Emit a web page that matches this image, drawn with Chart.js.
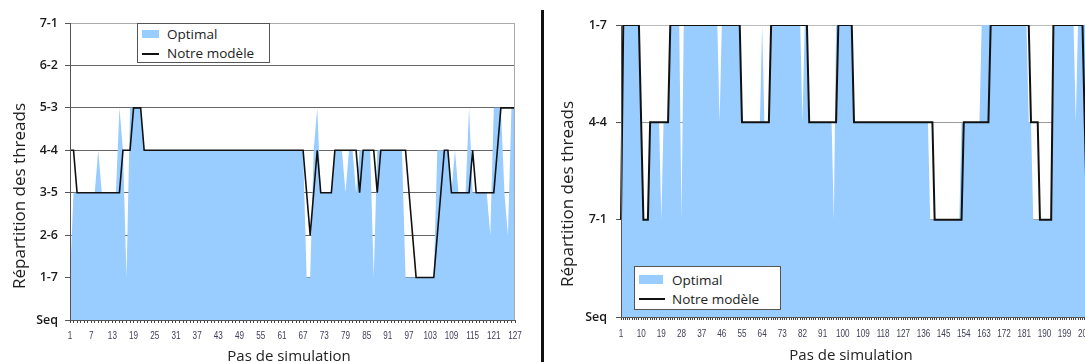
<!DOCTYPE html>
<html><head><meta charset="utf-8">
<script src="https://cdn.jsdelivr.net/npm/chart.js@4.4.1/dist/chart.umd.min.js"></script>
<style>
html,body{margin:0;padding:0;background:#fff;}
body{width:1085px;height:362px;overflow:hidden;position:relative;font-family:'Open Sans',sans-serif;}
canvas.cv{position:absolute;top:0;}
#divider{position:absolute;left:541px;top:10px;width:3px;height:352px;background:#111;}
.ytitle{position:absolute;font-size:17px;line-height:20px;color:#222;white-space:nowrap;transform:translate(-50%,-50%) rotate(-90deg);}
.xtitle{position:absolute;font-size:15px;line-height:20px;color:#222;white-space:nowrap;transform:translate(-50%,0);}
.legend{position:absolute;background:#fff;border:1px solid #555;box-sizing:border-box;font-size:13.5px;color:#222;}
.legend .sw{position:absolute;}
.legend .ln{position:absolute;height:2px;}
.legend .tx{position:absolute;line-height:18px;white-space:nowrap;transform:translateY(-50%);}
</style>
</head><body>
<canvas id="cLeft" class="cv" width="540" height="362" style="left:0;width:540px;height:362px"></canvas>
<div id="divider"></div>
<canvas id="cRight" class="cv" width="560" height="362" style="left:544px;width:560px;height:362px"></canvas>
<div class="ytitle" style="left:18.5px;top:196px">Répartition des threads</div>
<div class="ytitle" style="left:567px;top:194px">Répartition des threads</div>
<div class="xtitle" style="left:289px;top:345px">Pas de simulation</div>
<div class="xtitle" style="left:851px;top:343.5px">Pas de simulation</div>
<div id="legLeft" class="legend" style="left:137px;top:23px;width:133px;height:40px"></div>
<div id="legRight" class="legend" style="left:634px;top:266px;width:147px;height:44px"></div>
<script>
// ---------- Data ----------
const seriesNames = ['Optimal', 'Notre modèle'];

// Left chart
const yLabelsLeft = ['Seq', '1-7', '2-6', '3-5', '4-4', '5-3', '6-2', '7-1'];
const stepsLeft = 127;
const xLabelEveryLeft = 6;
const optimalLeft = [
  1,3,3,3,3,3,3,3,4,3,
  3,3,3,3,5,4,1,5,5,5,
  5,4,4,4,4,4,4,4,4,4,
  4,4,4,4,4,4,4,4,4,4,
  4,4,4,4,4,4,4,4,4,4,
  4,4,4,4,4,4,4,4,4,4,
  4,4,4,4,4,4,4,1,1,4,
  5,3,3,3,3,4,4,4,3,4,
  4,3,4,4,4,4,1,4,4,4,
  4,4,4,4,4,1,1,1,1,1,
  1,1,1,1,4,4,4,4,3,4,
  3,3,3,5,3,3,3,3,3,2,
  5,5,5,3,2,5,5
];
const notreLeft = [
  4,4,3,3,3,3,3,3,3,3,
  3,3,3,3,3,4,4,4,5,5,
  5,4,4,4,4,4,4,4,4,4,
  4,4,4,4,4,4,4,4,4,4,
  4,4,4,4,4,4,4,4,4,4,
  4,4,4,4,4,4,4,4,4,4,
  4,4,4,4,4,4,4,3,2,3,
  4,3,3,3,3,4,4,4,4,4,
  4,4,3,4,4,4,4,3,4,4,
  4,4,4,4,4,4,3,2,1,1,
  1,1,1,1,2,3,4,4,3,3,
  3,3,3,3,4,3,3,3,3,3,
  3,4,5,5,5,5,5
];

// Right chart
const yLabelsRight = ['Seq', '7-1', '4-4', '1-7'];
const stepsRight = 209;
const xLabelEveryRight = 9;
const optimalRight = [
  2,3,3,3,3,3,3,3,3,2,
  1,1,1,2,2,2,2,2,1,2,
  2,2,3,3,3,3,3,1,3,3,
  3,3,3,3,3,3,3,3,3,3,
  3,3,3,3,2,3,3,3,3,3,
  3,3,3,3,2,2,2,2,2,2,
  2,2,2,3,2,2,2,3,3,3,
  3,3,3,3,3,3,3,3,3,3,
  3,2,3,3,2,2,2,2,2,2,
  2,2,2,2,2,1,3,3,3,3,
  3,3,3,3,2,2,2,2,2,2,
  2,2,2,2,2,2,2,2,2,2,
  2,2,2,2,2,2,2,2,2,2,
  2,2,2,2,2,2,2,2,1,1,
  1,1,1,1,1,1,1,1,1,1,
  1,1,2,2,2,2,2,2,2,2,
  2,3,3,3,3,3,3,3,3,3,
  3,3,3,3,3,3,3,3,3,3,
  3,3,2,2,1,1,1,1,1,1,
  1,1,1,3,3,3,3,3,3,3,
  3,3,3,2,3,3,3,3,3
];
const notreRight = [
  1,3,3,3,3,3,3,3,3,2,
  1,1,1,2,2,2,2,2,2,2,
  2,2,3,3,3,3,3,3,3,3,
  3,3,3,3,3,3,3,3,3,3,
  3,3,3,3,3,3,3,3,3,3,
  3,3,3,3,2,2,2,2,2,2,
  2,2,2,2,2,2,2,3,3,3,
  3,3,3,3,3,3,3,3,3,3,
  3,3,3,3,2,2,2,2,2,2,
  2,2,2,2,2,2,2,3,3,3,
  3,3,3,3,2,2,2,2,2,2,
  2,2,2,2,2,2,2,2,2,2,
  2,2,2,2,2,2,2,2,2,2,
  2,2,2,2,2,2,2,2,2,2,
  1,1,1,1,1,1,1,1,1,1,
  1,1,1,2,2,2,2,2,2,2,
  2,2,2,2,2,3,3,3,3,3,
  3,3,3,3,3,3,3,3,3,3,
  3,3,3,2,2,2,2,1,1,1,
  1,1,1,3,3,3,3,3,3,3,
  3,3,3,3,3,3,3,2,1
];

// ---------- Styles ----------
const BLUE = '#99CCFF';
const LINE = '#111111';

function stepLabels(n){ const a=[]; for(let i=1;i<=n;i++) a.push(String(i)); return a; }

// light frame on the right edge of the plot
const frameRight = {
  id:'frameRight',
  afterDatasetsDraw(chart, args, opts){
    if(!opts || !opts.color) return;
    const {ctx, chartArea:a} = chart;
    ctx.save();
    ctx.strokeStyle = opts.color; ctx.lineWidth = 1;
    ctx.beginPath(); ctx.moveTo(Math.round(a.right)-0.5, a.top); ctx.lineTo(Math.round(a.right)-0.5, a.bottom); ctx.stroke();
    ctx.restore();
  }
};

// narrow category labels, placed at the x scale's own tick positions
const narrowXLabels = {
  id:'narrowXLabels',
  afterDraw(chart, args, o){
    const s = chart.scales.x, ctx = chart.ctx;
    ctx.save();
    ctx.fillStyle = o.color;
    ctx.font = o.size + "px 'Liberation Sans', Arial, sans-serif";
    ctx.textAlign = 'center'; ctx.textBaseline = 'alphabetic';
    s.ticks.forEach((t, i) => {
      if (i % o.every !== 0) return;
      const x = s.getPixelForTick(i);
      ctx.save();
      ctx.translate(x, s.top + o.baseline);
      ctx.scale(o.sx, 1);
      ctx.fillText(s.getLabelForValue(t.value), 0, 0);
      ctx.restore();
    });
    ctx.restore();
  }
};

function makeChart(id, cfg){
  const labels = stepLabels(cfg.steps);
  const topVal = cfg.yLabels.length - 1;
  return new Chart(document.getElementById(id), {
    type:'line',
    data:{
      labels,
      datasets:[
        {label:seriesNames[0], data:cfg.optimal, fill:'origin', backgroundColor:BLUE, borderWidth:0, borderColor:BLUE,
         pointRadius:0, tension:0, order:2},
        {label:seriesNames[1], data:cfg.notre, fill:false, borderColor:LINE, borderWidth:cfg.lineWidth,
         pointRadius:0, tension:0, order:1}
      ]
    },
    options:{
      responsive:false, animation:false, devicePixelRatio:1,
      layout:{padding:{top:cfg.padTop, right:cfg.padRight, left:0, bottom:0}},
      plugins:{legend:{display:false}, tooltip:{enabled:false}, frameRight:{color:cfg.frameColor},
               narrowXLabels:{every:cfg.every, color:'#404058', size:11, sx:0.74, baseline:cfg.xBase}},
      scales:{
        x:{
          type:'category', offset:false,
          grid:{drawOnChartArea:false, drawTicks:true, tickLength:3, tickColor:'#444', tickWidth:1},
          border:{color:'#555', width:1, z:1},
          ticks:{autoSkip:false, display:false},
          afterFit:(s)=>{ s.height = cfg.xHeight; }
        },
        y:{
          type:'linear', min:0, max:topVal,
          grid:{color:(c)=> c.tick && c.tick.value === topVal ? cfg.topGrid : cfg.gridColor,
                drawTicks:true, tickLength:5, tickColor:'#555'},
          border:{color:'#555', width:1, z:1},
          ticks:{stepSize:1, autoSkip:false, padding:cfg.yPad, color:'#1a1a1a',
                 font:{family:"'Open Sans',sans-serif", size:12.5, weight:'600'},
                 callback:(v)=> cfg.yLabels[v]},
          afterFit:(s)=>{ s.width = cfg.yWidth; }
        }
      }
    },
    plugins:[frameRight, narrowXLabels]
  });
}

const left = makeChart('cLeft', {steps:stepsLeft, every:xLabelEveryLeft, yLabels:yLabelsLeft,
  optimal:optimalLeft, notre:notreLeft, lineWidth:1.6, padTop:23, padRight:25, xHeight:42, yWidth:70,
  xBase:18.5, yPad:7, gridColor:'#666', topGrid:'#aaa', frameColor:'#aaa'});
const right = makeChart('cRight', {steps:stepsRight, every:xLabelEveryRight, yLabels:yLabelsRight,
  optimal:optimalRight, notre:notreRight, lineWidth:2, padTop:25, padRight:17, xHeight:45, yWidth:77,
  xBase:20, yPad:9, gridColor:'#999', topGrid:'#bbb', frameColor:null});

// ---------- HTML legends built from the datasets ----------
function buildLegend(elId, chart, g){
  const el = document.getElementById(elId);
  const ds = chart.data.datasets;
  const sw = document.createElement('div'); sw.className='sw';
  Object.assign(sw.style,{left:g.swX+'px', top:g.swY+'px', width:g.swW+'px', height:g.swH+'px', background:ds[0].backgroundColor});
  const t1 = document.createElement('div'); t1.className='tx'; t1.textContent = ds[0].label;
  Object.assign(t1.style,{left:g.txX+'px', top:g.row1+'px'});
  const ln = document.createElement('div'); ln.className='ln';
  Object.assign(ln.style,{left:g.lnX+'px', top:(g.lnY-1)+'px', width:g.lnW+'px', background:ds[1].borderColor});
  const t2 = document.createElement('div'); t2.className='tx'; t2.textContent = ds[1].label;
  Object.assign(t2.style,{left:g.txX+'px', top:g.row2+'px'});
  el.append(sw,t1,ln,t2);
}
buildLegend('legLeft', left, {swX:4, swY:6, swW:17, swH:8, txX:29, row1:10, lnX:4, lnY:29.5, lnW:17, row2:29});
buildLegend('legRight', right, {swX:4, swY:8, swW:24, swH:9, txX:37, row1:12.5, lnX:4, lnY:32, lnW:26, row2:31.5});
</script>
</body></html>
